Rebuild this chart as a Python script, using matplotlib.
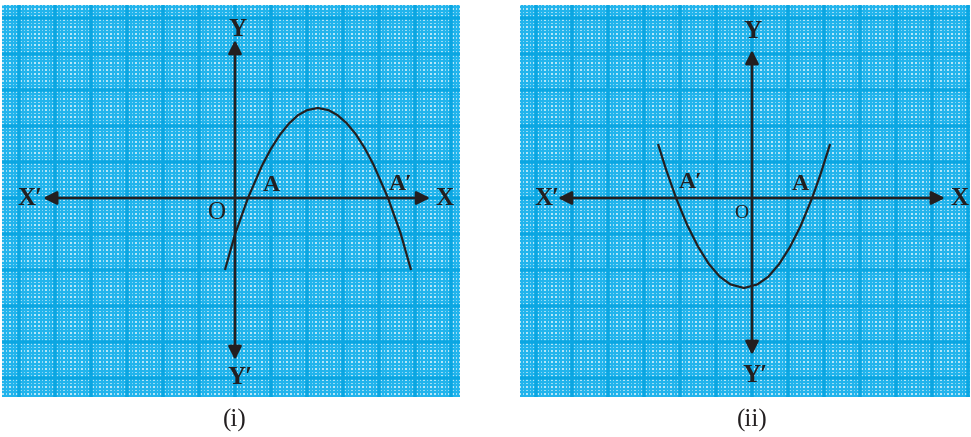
import matplotlib
matplotlib.use("Agg")

import matplotlib.pyplot as plt
import numpy as np

# curve (i): points, 1 unit = one big square
curve1_x = [-0.28, 0.0, 0.36, 0.75, 1.0, 1.25, 1.5, 1.75, 2.0, 2.3,
            2.6, 2.85, 3.1, 3.35, 3.6, 3.85, 4.25, 4.6, 4.89]
curve1_y = [-2.0, -1.01, 0.0, 0.90, 1.37, 1.76, 2.07, 2.30, 2.44, 2.50,
            2.44, 2.30, 2.08, 1.78, 1.39, 0.92, 0.0, -0.98, -2.0]

# curve (ii)
curve2_x = [-2.61, -2.4, -2.11, -1.8, -1.5, -1.2, -0.9, -0.6, -0.22,
            0.15, 0.45, 0.75, 1.05, 1.35, 1.67, 1.9, 2.17]
curve2_y = [1.50, 0.83, 0.0, -0.75, -1.35, -1.83, -2.18, -2.40, -2.50,
            -2.40, -2.19, -1.84, -1.37, -0.78, 0.0, 0.65, 1.50]

captions = ["(i)", "(ii)"]

W, H = 971, 437
UNIT = 36.0  # pixels per big square

MINOR_COLOR = "#22b4ec"
MAJOR_COLOR = "#0aa6e2"
INK = "#231f20"
SERIF = ["Liberation Serif", "DejaVu Serif"]


def add_panel(fig, px_left, px_right, px_top, px_bottom, ox, oy):
    ax = fig.add_axes([px_left / W, (H - px_bottom) / H,
                       (px_right - px_left) / W, (px_bottom - px_top) / H])
    x0, x1 = (px_left - ox) / UNIT, (px_right - ox) / UNIT
    y0, y1 = (oy - px_bottom) / UNIT, (oy - px_top) / UNIT
    ax.set_xlim(x0, x1)
    ax.set_ylim(y0, y1)
    ax.axis("off")

    # graph paper
    minor = np.arange(np.floor(x0), np.ceil(x1) + 0.01, 0.1)
    ax.vlines(minor, y0, y1, color=MINOR_COLOR, lw=1.7, zorder=1)
    minor = np.arange(np.floor(y0), np.ceil(y1) + 0.01, 0.1)
    ax.hlines(minor, x0, x1, color=MINOR_COLOR, lw=1.7, zorder=1)
    major = np.arange(np.floor(x0), np.ceil(x1) + 0.01, 1.0)
    ax.vlines(major, y0, y1, color=MAJOR_COLOR, lw=2.6, zorder=2)
    major = np.arange(np.floor(y0), np.ceil(y1) + 0.01, 1.0)
    ax.hlines(major, x0, x1, color=MAJOR_COLOR, lw=2.6, zorder=2)
    return ax


def draw_axes(ax, xmin, xmax, ymin, ymax):
    style = dict(arrowstyle="-|>", color=INK, lw=1.9,
                 mutation_scale=20, shrinkA=0, shrinkB=0)
    for tip in [(xmax, 0), (xmin, 0), (0, ymax), (0, ymin)]:
        ax.annotate("", xy=tip, xytext=(0, 0), arrowprops=style, zorder=4)


def label(ax, x, y, s, size=18, weight="bold"):
    ax.text(x, y, s, ha="center", va="center", fontsize=size,
            fontweight=weight, family=SERIF, color=INK, zorder=5)


fig = plt.figure(figsize=(W / 100, H / 100), dpi=100)

# panel (i)
ox, oy = 235, 198
ax1 = add_panel(fig, 2, 460, 5, 397, ox, oy)
draw_axes(ax1, -5.33, 5.42, -4.5, 4.39)
ax1.plot(curve1_x, curve1_y, color=INK, lw=1.6, zorder=3,
         solid_capstyle="butt")
u = lambda px: (px - ox) / UNIT
v = lambda py: (oy - py) / UNIT
label(ax1, u(30), v(198), "X\u2032")
label(ax1, u(444), v(198), "X")
label(ax1, u(238), v(29), "Y")
label(ax1, u(240), v(377), "Y\u2032")
label(ax1, u(217), v(213), "O", size=18, weight="normal")
label(ax1, u(271), v(185), "A", size=17)
label(ax1, u(401), v(184), "A\u2032", size=17)

# panel (ii)
ox, oy = 752, 198
ax2 = add_panel(fig, 520, 970, 5, 397, ox, oy)
draw_axes(ax2, -5.39, 5.36, -4.36, 4.11)
ax2.plot(curve2_x, curve2_y, color=INK, lw=1.6, zorder=3,
         solid_capstyle="butt")
label(ax2, u(547), v(198), "X\u2032")
label(ax2, u(959), v(198), "X")
label(ax2, u(753), v(32), "Y")
label(ax2, u(755), v(376), "Y\u2032")
label(ax2, u(741), v(213), "O", size=14, weight="normal")
label(ax2, u(800), v(184), "A", size=17)
label(ax2, u(691), v(182), "A\u2032", size=17)

for cx, text in zip([235, 752], captions):
    fig.text(cx / W, 1 - 420 / H, text, ha="center", va="center",
             fontsize=18, family=SERIF, color=INK)

fig.savefig("out.png", dpi=100)
